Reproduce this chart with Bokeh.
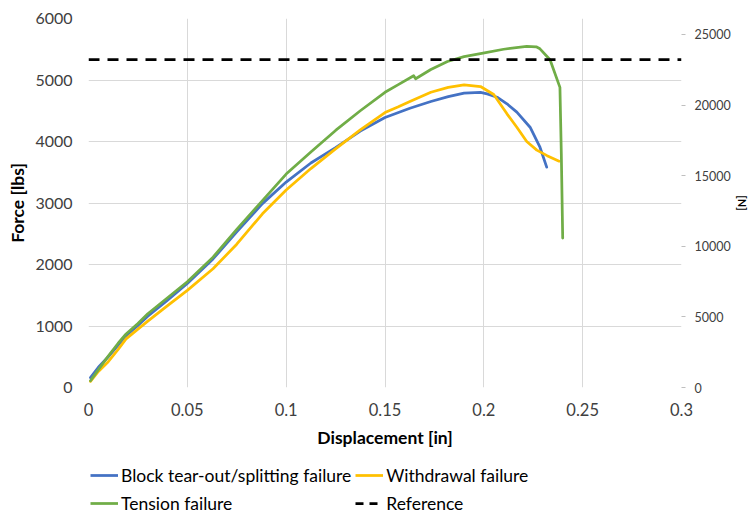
from bokeh.plotting import figure
from bokeh.layouts import column
from bokeh.models import (Range1d, LinearAxis, FixedTicker, CustomJSTickFormatter,
                          Legend, LegendItem)
from bokeh.embed import file_html
from bokeh.resources import INLINE

# ---------------- data ----------------
disp_block = [0.001, 0.005, 0.01, 0.015, 0.019, 0.025, 0.03, 0.04, 0.05, 0.063,
              0.075, 0.088, 0.1, 0.1125, 0.125, 0.1375, 0.15, 0.1626, 0.1732, 0.182,
              0.19, 0.1983, 0.2017, 0.2067, 0.2117, 0.2167, 0.2234, 0.2284, 0.2318]
force_block = [160, 330, 500, 690, 840, 1010, 1160, 1420, 1690, 2090,
               2530, 2990, 3340, 3650, 3900, 4170, 4390, 4540, 4650, 4730,
               4786, 4800, 4775, 4720, 4613, 4477, 4232, 3907, 3583]

disp_withdrawal = [0.001, 0.005, 0.01, 0.015, 0.019, 0.025, 0.03, 0.04, 0.05, 0.063,
                   0.075, 0.088, 0.1, 0.1125, 0.125, 0.1375, 0.15, 0.1565, 0.1626, 0.1732,
                   0.182, 0.19, 0.1983, 0.205, 0.2117, 0.2167, 0.2217, 0.2268, 0.232, 0.2381]
force_withdrawal = [100, 260, 420, 620, 790, 950, 1080, 1330, 1580, 1930,
                    2330, 2824, 3210, 3560, 3880, 4190, 4470, 4560, 4650, 4800,
                    4880, 4922, 4894, 4764, 4450, 4232, 4000, 3860, 3770, 3680]

disp_tension = [0.001, 0.005, 0.01, 0.015, 0.019, 0.025, 0.03, 0.04, 0.05, 0.063,
                0.075, 0.088, 0.1, 0.1125, 0.125, 0.1375, 0.15, 0.1565, 0.1645, 0.1655,
                0.1732, 0.1816, 0.19, 0.2003, 0.21, 0.2217, 0.2265, 0.2284, 0.2335, 0.2385,
                0.2392, 0.2399]
force_tension = [110, 290, 510, 720, 870, 1040, 1200, 1460, 1720, 2120,
                 2570, 3040, 3470, 3830, 4180, 4500, 4800, 4920, 5070, 5020,
                 5170, 5300, 5380, 5440, 5500, 5545, 5540, 5507, 5330, 4880,
                 3800, 2430]

disp_reference = [0.0, 0.3]
force_reference = [5330, 5330]

series_labels = ["Block tear-out/splitting failure", "Withdrawal failure",
                 "Tension failure", "Reference"]

x_ticks = [0, 0.05, 0.1, 0.15, 0.2, 0.25, 0.3]
y_ticks = [0, 1000, 2000, 3000, 4000, 5000, 6000]
n_ticks = [0, 5000, 10000, 15000, 20000, 25000]

FONT = "Lato"
C_BLOCK, C_WITH, C_TENS, C_REF = "#4472C4", "#FFC000", "#70AD47", "#000000"
LW = 2.75
REF_DASH = "11 8"

p = figure(width=751, height=450, x_range=Range1d(0, 0.3), y_range=Range1d(0, 6000),
           output_backend="svg", toolbar_location=None,
           min_border_left=88, min_border_right=65, min_border_top=18,
           min_border_bottom=63)
p.outline_line_color = None
p.background_fill_color = "white"
p.border_fill_color = "white"

# grids
p.xgrid.ticker = FixedTicker(ticks=x_ticks)
p.ygrid.ticker = FixedTicker(ticks=y_ticks)
for g in (p.xgrid, p.ygrid):
    g.grid_line_color = "#D9D9D9"
    g.grid_line_width = 1

# x axis
xa = p.xaxis[0]
xa.ticker = FixedTicker(ticks=x_ticks)
xa.formatter = CustomJSTickFormatter(code="return String(Math.round(tick*100)/100);")
xa.axis_line_color = None
xa.major_tick_line_color = None
xa.minor_tick_line_color = None
xa.major_tick_out = 0
xa.major_label_standoff = 15
xa.major_label_text_font = FONT
xa.major_label_text_font_size = "16.5px"
xa.major_label_text_color = "#404040"
xa.axis_label = "Displacement [in]"
xa.axis_label_text_font = FONT
xa.axis_label_text_font_size = "17.5px"
xa.axis_label_text_font_style = "bold"
xa.axis_label_text_color = "#000000"
xa.axis_label_standoff = 8

# left y axis
ya = p.yaxis[0]
ya.ticker = FixedTicker(ticks=y_ticks)
ya.axis_line_color = None
ya.major_tick_line_color = None
ya.minor_tick_line_color = None
ya.major_tick_out = 0
ya.major_label_standoff = 16
ya.major_label_text_font = FONT
ya.major_label_text_font_size = "16px"
ya.major_label_text_color = "#404040"
ya.axis_label = "Force [lbs]"
ya.axis_label_text_font = FONT
ya.axis_label_text_font_size = "17.5px"
ya.axis_label_text_font_style = "bold"
ya.axis_label_text_color = "#000000"
ya.axis_label_standoff = 4

# right axis in N
p.extra_y_ranges = {"N": Range1d(0, 26130)}
ra = LinearAxis(y_range_name="N", ticker=FixedTicker(ticks=n_ticks))
ra.axis_line_color = None
ra.major_tick_line_color = "#BFBFBF"
ra.major_tick_out = 4
ra.major_tick_in = 0
ra.minor_tick_line_color = None
ra.major_label_standoff = 9
ra.major_label_text_font = FONT
ra.major_label_text_font_size = "12.5px"
ra.major_label_text_color = "#404040"
ra.axis_label = "[N]"
ra.axis_label_text_font = FONT
ra.axis_label_text_font_size = "11px"
ra.axis_label_text_font_style = "bold"
ra.axis_label_text_color = "#000000"
ra.axis_label_standoff = 2
p.add_layout(ra, "right")

# series
p.line(disp_block, force_block, line_color=C_BLOCK, line_width=LW,
       line_join="round", line_cap="round")
p.line(disp_withdrawal, force_withdrawal, line_color=C_WITH, line_width=LW,
       line_join="round", line_cap="round")
p.line(disp_tension, force_tension, line_color=C_TENS, line_width=LW,
       line_join="round", line_cap="round")
p.line(disp_reference, force_reference, line_color=C_REF, line_width=LW,
       line_dash=REF_DASH)

# ---------------- legend strip below the chart ----------------
# (the series are drawn again here, outside the visible range, only so that
#  the legend has renderers to take its glyphs from)
lg = figure(width=751, height=65, x_range=Range1d(10, 11), y_range=Range1d(-2, -1),
            output_backend="svg", toolbar_location=None,
            x_axis_location=None, y_axis_location=None,
            min_border_left=0, min_border_right=0, min_border_top=0,
            min_border_bottom=0)
lg.grid.visible = False
lg.outline_line_color = None
lg.background_fill_color = "white"
lg.border_fill_color = "white"

g1 = lg.line(disp_block, force_block, line_color=C_BLOCK, line_width=LW)
g2 = lg.line(disp_withdrawal, force_withdrawal, line_color=C_WITH, line_width=LW)
g3 = lg.line(disp_tension, force_tension, line_color=C_TENS, line_width=LW)
g4 = lg.line(disp_reference, force_reference, line_color=C_REF, line_width=LW,
             line_dash="8 6")

legend = Legend(items=[
    LegendItem(label=series_labels[0], renderers=[g1]),
    LegendItem(label=series_labels[1], renderers=[g2]),
    LegendItem(label=series_labels[2], renderers=[g3]),
    LegendItem(label=series_labels[3], renderers=[g4]),
], orientation="horizontal", ncols=2, location=(2, 0))
legend.label_text_font = FONT
legend.label_text_font_size = "17.5px"
legend.label_text_color = "#000000"
legend.glyph_width = 28
legend.glyph_height = 24
legend.label_height = 24
legend.label_standoff = 3
legend.spacing = 4
legend.padding = 0
legend.margin = 0
legend.background_fill_alpha = 0
legend.border_line_color = None
lg.add_layout(legend, "center")

layout = column(p, lg, spacing=0)
open("out.html", "w").write(file_html(layout, INLINE))
